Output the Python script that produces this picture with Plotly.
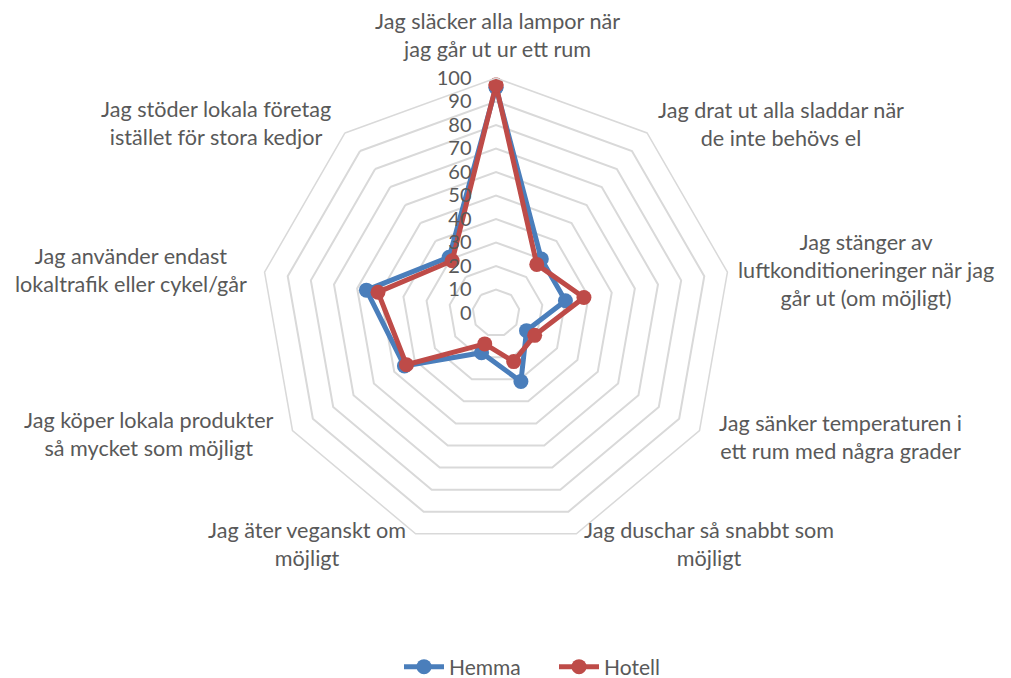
import plotly.graph_objects as go

categories = [
    "Jag släcker alla lampor när<br>jag går ut ur ett rum",
    "Jag drat ut alla sladdar när<br>de inte behövs el",
    "Jag stänger av<br>luftkonditioneringer när jag<br>går ut (om möjligt)",
    "Jag sänker temperaturen i<br>ett rum med några grader",
    "Jag duschar så snabbt som<br>möjligt",
    "Jag äter veganskt om<br>möjligt",
    "Jag köper lokala produkter<br>så mycket som möjligt",
    "Jag använder endast<br>lokaltrafik eller cykel/går",
    "Jag stöder lokala företag<br>istället för stora kedjor",
]
hemma = [96, 30, 30, 15, 31, 18, 45, 56, 31]
hotell = [97, 27, 38, 19, 22, 14, 44, 51, 29]
radial_ticks = [0, 10, 20, 30, 40, 50, 60, 70, 80, 90, 100]

# page has an 8px body margin; positions below are given in page pixels
OFF = 8
W, H = 1011, 678
# label block centers in page pixels (layout only)
label_pos = [(497, 35), (781, 124), (866, 270), (840, 437), (709, 544),
             (307, 544), (149, 434), (131, 270), (216, 123)]

GREY = "#595959"
FONT = "Lato"

def px_x(p):
    return (p - OFF) / W

def px_y(p):
    return 1 - (p - OFF) / H

fig = go.Figure()
for name, vals, col in [("Hemma", hemma, "#4A7EBB"), ("Hotell", hotell, "#BE4B48")]:
    fig.add_trace(go.Scatterpolar(
        r=vals + vals[:1], theta=categories + categories[:1], name=name, mode="lines+markers",
        line=dict(color=col, width=5), marker=dict(color=col, size=15),
    ))

cx, cy, R = 496, 313, 235
fig.update_layout(
    width=W, height=H, margin=dict(l=0, r=0, t=0, b=0, autoexpand=False),
    paper_bgcolor="white", plot_bgcolor="white",
    font=dict(family=FONT, size=18, color=GREY),
    polar=dict(
        domain=dict(x=[px_x(cx - R), px_x(cx + R)], y=[px_y(cy + R), px_y(cy - R)]),
        gridshape="linear", bgcolor="white",
        angularaxis=dict(type="category", categoryorder="array", categoryarray=categories,
                         showticklabels=False,
                         direction="clockwise", rotation=90, showgrid=False,
                         showline=True, linecolor="#D9D9D9", linewidth=1.5, ticks=""),
        radialaxis=dict(range=[0, 100], tickvals=radial_ticks, angle=90, side="counterclockwise",
                        showline=False, gridcolor="#D9D9D9", gridwidth=1.5,
                        ticks="outside", ticklen=17, tickcolor="rgba(0,0,0,0)",
                        tickfont=dict(size=20, color=GREY, family=FONT), tickangle=90),
    ),
    legend=dict(orientation="h", xref="container", yref="container",
                x=px_x(399), xanchor="left", y=px_y(667), yanchor="middle",
                itemwidth=40, entrywidth=100, entrywidthmode="pixels",
                font=dict(size=21, color=GREY, family=FONT)),
    showlegend=True,
)
for (px, py), txt in zip(label_pos, categories):
    fig.add_annotation(x=px_x(px), y=px_y(py), xref="paper", yref="paper", text=txt,
                       showarrow=False, xanchor="center", yanchor="middle", align="center",
                       font=dict(size=21.6, color=GREY, family=FONT))

fig.write_html("out.html")
